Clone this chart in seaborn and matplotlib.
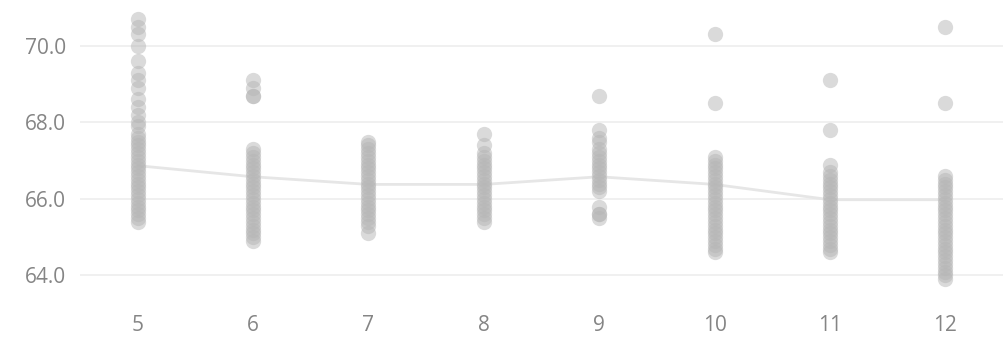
import pandas as pd
import matplotlib.pyplot as plt
import seaborn as sns
from matplotlib.ticker import FixedLocator

# values, one list per month
months = [5, 6, 7, 8, 9, 10, 11, 12]
m5 = [65.4, 65.5, 65.6, 65.7, 65.8, 65.9, 66.0, 66.1, 66.2, 66.3, 66.4, 66.5, 66.6,
      66.7, 66.8, 66.9, 67.0, 67.1, 67.2, 67.3, 67.4, 67.5, 67.6, 67.7, 67.9, 68.0,
      68.2, 68.4, 68.6, 68.9, 69.1, 69.3, 69.6, 70.0, 70.3, 70.5, 70.7]
m6 = [64.9, 65.0, 65.1, 65.2, 65.3, 65.4, 65.5, 65.6, 65.7, 65.8, 65.9, 66.0, 66.1,
      66.2, 66.3, 66.4, 66.5, 66.6, 66.7, 66.8, 66.9, 67.0, 67.1, 67.2, 67.3,
      68.7, 68.7, 68.9, 69.1]
m7 = [65.1, 65.3, 65.4, 65.5, 65.6, 65.7, 65.8, 65.9, 66.0, 66.1, 66.2, 66.3, 66.4,
      66.5, 66.6, 66.7, 66.8, 66.9, 67.0, 67.1, 67.2, 67.3, 67.4, 67.5]
m8 = [65.4, 65.5, 65.6, 65.7, 65.8, 65.9, 66.0, 66.1, 66.2, 66.3, 66.4, 66.5, 66.6,
      66.7, 66.8, 66.9, 67.0, 67.1, 67.2, 67.4, 67.7]
m9 = [65.5, 65.6, 65.6, 65.8, 66.2, 66.3, 66.4, 66.5, 66.6, 66.7, 66.8, 66.9, 67.0,
      67.1, 67.2, 67.3, 67.5, 67.6, 67.8, 68.7]
m10 = [64.6, 64.7, 64.8, 64.9, 65.0, 65.1, 65.2, 65.3, 65.4, 65.5, 65.6, 65.7, 65.8,
       65.9, 66.0, 66.1, 66.2, 66.3, 66.4, 66.5, 66.6, 66.7, 66.8, 66.9, 67.0, 67.1,
       68.5, 70.3]
m11 = [64.6, 64.7, 64.8, 64.9, 65.0, 65.1, 65.2, 65.3, 65.4, 65.5, 65.6, 65.7, 65.8,
       65.9, 66.0, 66.1, 66.2, 66.3, 66.4, 66.5, 66.6, 66.7, 66.9, 67.8, 69.1]
m12 = [63.9, 64.0, 64.1, 64.2, 64.3, 64.4, 64.5, 64.6, 64.7, 64.8, 64.9, 65.0, 65.1,
       65.2, 65.3, 65.4, 65.5, 65.6, 65.7, 65.8, 65.9, 66.0, 66.1, 66.2, 66.3, 66.4,
       66.5, 66.6, 68.5, 70.5]
# the trend line (means per month)
means = [66.87, 66.58, 66.38, 66.38, 66.58, 66.38, 65.98, 65.98]
yticks = [64.0, 66.0, 68.0, 70.0]

rows = []
for m, vals in zip(months, [m5, m6, m7, m8, m9, m10, m11, m12]):
    for v in vals:
        rows.append({'month': m, 'value': v})
df = pd.DataFrame(rows)
trend = pd.DataFrame({'month': months, 'value': means})

sns.set_style('white')
plt.rcParams['font.family'] = ['Open Sans', 'DejaVu Sans']

fig = plt.figure(figsize=(10.07, 3.37), dpi=100)
ax = fig.add_axes([0.0794, 0.1157, 0.9166, 0.8694])

sns.lineplot(data=trend, x='month', y='value', ax=ax, color='#e6e6e6',
             linewidth=2.0, zorder=1)
sns.stripplot(data=df, x='month', y='value', ax=ax, native_scale=True,
              jitter=False, color='#b6b6b6', alpha=0.5, size=11,
              linewidth=0, zorder=2)

ax.set_xlim(4.5, 12.5)
ax.set_ylim(63.41, 71.07)
ax.set_yticks(yticks)
ax.set_yticklabels([f'{t:.1f}' for t in yticks])
ax.set_xticks(months)
ax.set_xticklabels([str(m) for m in months])
ax.xaxis.set_minor_locator(FixedLocator([4.5, 5.5, 6.5, 7.5, 8.5, 9.5, 10.5, 11.5, 12.5]))
ax.tick_params(axis='x', which='major', length=0, pad=12, labelsize=15,
               labelcolor='#858585')
ax.tick_params(axis='x', which='minor', length=6, width=1, color='#eeeeee',
               direction='out')
ax.tick_params(axis='y', length=0, pad=10, labelsize=15, labelcolor='#858585')
ax.grid(axis='y', color='#eeeeee', linewidth=1.2)
ax.set_axisbelow(True)
for s in ax.spines.values():
    s.set_visible(False)
ax.set_xlabel('')
ax.set_ylabel('')

fig.savefig('out.png', dpi=100)
